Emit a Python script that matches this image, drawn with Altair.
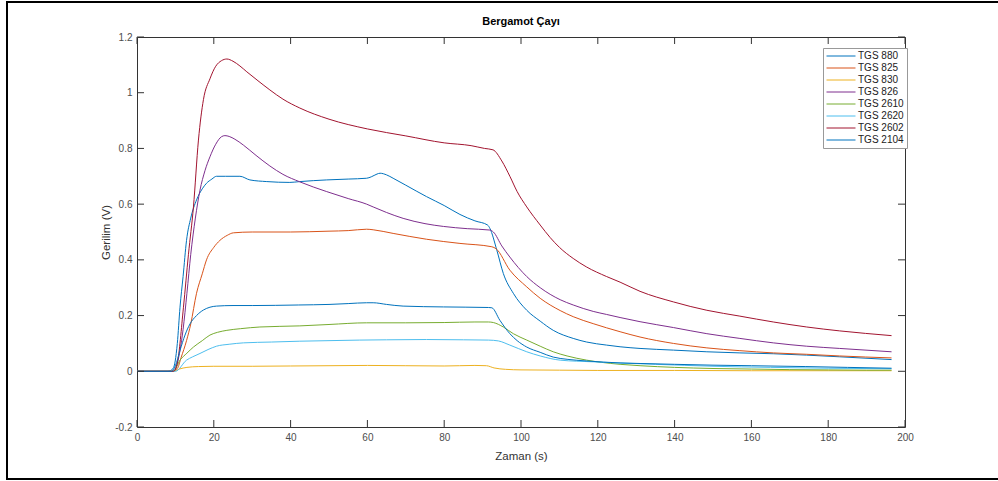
import altair as alt
import pandas as pd

FONT = "Liberation Sans"

series = ["TGS 880", "TGS 825", "TGS 830", "TGS 826", "TGS 2610", "TGS 2620", "TGS 2602", "TGS 2104"]
colors = ["#0072BD", "#D95319", "#EDB120", "#7E2F8E", "#77AC30", "#4DBEEE", "#A2142F", "#0072BD"]

x_ticks = [0, 20, 40, 60, 80, 100, 120, 140, 160, 180, 200]
y_ticks = [-0.2, 0, 0.2, 0.4, 0.6, 0.8, 1, 1.2]
title_text = ["Bergamot Çayı"]

tgs880_x = [0, 8, 9.4, 10.5, 11.2, 12, 12.9, 14, 15.5, 17, 18.1, 19.5, 20.7, 23, 26.8, 29.4, 33.8, 39.8, 42.4,
            49.4, 55, 59.8, 61, 62.5, 63.3, 65, 66.7, 70, 75.4, 80, 84.1, 88, 91.3, 91.9, 93.7, 95.4, 98, 101.5,
            105, 108.4, 113.6, 117.1, 122.3, 125.8, 131, 139.7, 148.4, 157, 165.7, 174.4, 183, 196.5]
tgs880_y = [0, 0, 0.01, 0.1, 0.23, 0.34, 0.47, 0.55, 0.615, 0.655, 0.675, 0.69, 0.70, 0.70, 0.70, 0.687, 0.681,
            0.678, 0.681, 0.687, 0.69, 0.693, 0.698, 0.708, 0.711, 0.705, 0.693, 0.668, 0.627, 0.595, 0.563, 0.54,
            0.525, 0.513, 0.435, 0.351, 0.28, 0.219, 0.18, 0.147, 0.118, 0.105, 0.094, 0.088, 0.082, 0.076,
            0.07, 0.066, 0.063, 0.058, 0.052, 0.042]

tgs825_x = [0, 9, 10.5, 11.5, 12.9, 14, 15.5, 17, 18.1, 20, 21.6, 23.5, 25.1, 30, 40, 50, 55, 59.8, 61.5, 66.7,
            75.4, 84.1, 92.4, 93.5, 97.1, 101.5, 105, 110.2, 113.6, 118.8, 122.3, 125.8, 131, 139.7, 148.4, 157,
            165.7, 174.4, 183, 196.5]
tgs825_y = [0, 0, 0.01, 0.05, 0.11, 0.17, 0.28, 0.35, 0.40, 0.445, 0.47, 0.488, 0.497, 0.50, 0.50, 0.503,
            0.505, 0.51, 0.508, 0.495, 0.474, 0.459, 0.447, 0.44, 0.363, 0.303, 0.262, 0.218, 0.196, 0.171, 0.156,
            0.142, 0.123, 0.1, 0.084, 0.074, 0.066, 0.061, 0.055, 0.048]

tgs830_x = [0, 9.5, 11, 13, 16, 20, 30, 40, 50, 60, 70, 80, 88, 91, 93, 96, 100, 110, 120, 140, 160, 180, 196.5]
tgs830_y = [0, 0, 0.008, 0.014, 0.017, 0.018, 0.018, 0.019, 0.02, 0.021, 0.02, 0.019, 0.021, 0.02, 0.012,
            0.007, 0.005, 0.004, 0.003, 0.003, 0.002, 0.002, 0.002]

tgs826_x = [0, 9.5, 10.5, 12, 13, 14, 15.2, 16.4, 17.7, 19, 20.5, 22, 22.9, 24, 25.5, 27.7, 31, 34.6, 38, 42.4,
            49.4, 55, 59.8, 61.5, 65, 69.3, 75, 79.8, 86, 91.9, 92.8, 95, 97.1, 101.5, 105, 110.2, 113.6, 118.8,
            122.3, 125.8, 131, 139.7, 148.4, 157, 165.7, 174.4, 183, 196.5]
tgs826_y = [0, 0, 0.03, 0.15, 0.28, 0.42, 0.55, 0.65, 0.72, 0.77, 0.815, 0.842, 0.846, 0.843, 0.833, 0.812,
            0.775, 0.737, 0.707, 0.68, 0.645, 0.62, 0.60, 0.59, 0.57, 0.549, 0.53, 0.52, 0.512, 0.507, 0.5, 0.45,
            0.41, 0.34, 0.30, 0.257, 0.238, 0.215, 0.204, 0.193, 0.178, 0.157, 0.135, 0.118, 0.102, 0.09, 0.082,
            0.07]

tgs2610_x = [0, 9.5, 11.2, 13, 14.7, 17, 19, 21, 23.4, 27, 32, 42.4, 50, 59.8, 70, 80, 88, 91.5, 92.8, 95.4,
             98, 101.5, 105, 108.4, 112, 117.1, 121, 125.8, 131, 140, 150, 160, 170, 180, 190, 196.5]
tgs2610_y = [0, 0, 0.04, 0.065, 0.087, 0.11, 0.13, 0.14, 0.147, 0.153, 0.159, 0.163, 0.168, 0.174, 0.174,
             0.175, 0.177, 0.177, 0.175, 0.159, 0.135, 0.112, 0.09, 0.07, 0.055, 0.04, 0.032, 0.025, 0.02, 0.014,
             0.01, 0.008, 0.006, 0.005, 0.004, 0.004]

tgs2620_x = [0, 10, 12.9, 14.5, 16.4, 18.5, 20.7, 24, 27.7, 35, 42.4, 50, 58, 65, 75.4, 85, 91.5, 94.1, 97.1,
             101.5, 105, 110.2, 118.8, 125, 135, 150, 165, 180, 196.5]
tgs2620_y = [0, 0, 0.04, 0.052, 0.064, 0.078, 0.09, 0.097, 0.102, 0.105, 0.108, 0.11, 0.112, 0.113, 0.114,
             0.113, 0.112, 0.109, 0.094, 0.07, 0.055, 0.04, 0.034, 0.03, 0.025, 0.018, 0.014, 0.011, 0.009]

tgs2602_x = [0, 9.5, 10.5, 12.1, 13.4, 14.7, 16, 17.3, 19, 20.5, 22, 23.4, 25, 26.8, 28.6, 31.5, 34.6, 38, 42.4,
             50, 60, 70, 80, 87, 90.5, 92.7, 95, 97.1, 99, 101.5, 105, 107.6, 110, 113.6, 117, 122.3, 125.8, 131,
             139.7, 148.4, 157, 165.7, 174.4, 183, 196.5]
tgs2602_y = [0, 0, 0.03, 0.23, 0.42, 0.59, 0.83, 0.975, 1.05, 1.095, 1.115, 1.121, 1.113, 1.096, 1.075, 1.043,
             1.01, 0.977, 0.945, 0.905, 0.87, 0.845, 0.82, 0.81, 0.80, 0.795, 0.755, 0.70, 0.645, 0.59, 0.525,
             0.48, 0.445, 0.405, 0.375, 0.34, 0.32, 0.287, 0.249, 0.219, 0.198, 0.177, 0.159, 0.145, 0.128]

tgs2104_x = [0, 9, 10, 11.2, 12.5, 13.8, 15.5, 17.3, 19, 20.7, 25, 30, 42, 50, 55, 59.8, 61.5, 65, 69.3, 79.8,
             91.5, 92.4, 94.5, 97.1, 99, 101.5, 105, 108.4, 112, 117.1, 125.8, 131, 140, 150, 160, 174, 185, 196.5]
tgs2104_y = [0, 0, 0.02, 0.075, 0.13, 0.17, 0.2, 0.22, 0.23, 0.234, 0.236, 0.236, 0.238, 0.24, 0.243, 0.246,
             0.246, 0.24, 0.234, 0.231, 0.229, 0.228, 0.183, 0.135, 0.11, 0.087, 0.068, 0.051, 0.043, 0.037,
             0.03, 0.028, 0.025, 0.022, 0.02, 0.017, 0.014, 0.011]

xs_all = [tgs880_x, tgs825_x, tgs830_x, tgs826_x, tgs2610_x, tgs2620_x, tgs2602_x, tgs2104_x]
ys_all = [tgs880_y, tgs825_y, tgs830_y, tgs826_y, tgs2610_y, tgs2620_y, tgs2602_y, tgs2104_y]

rows = []
for name, xv, yv in zip(series, xs_all, ys_all):
    for a, b in zip(xv, yv):
        rows.append({"series": name, "x": a, "y": b})
df = pd.DataFrame(rows)

W, H = 768, 390
TL = 7
xscale = alt.Scale(domain=[0, 200], nice=False, zero=False)
yscale = alt.Scale(domain=[-0.2, 1.2], nice=False, zero=False)

xaxis = alt.Axis(values=x_ticks, ticks=False, domain=False, grid=False, format="d",
                 labelFont=FONT, labelFontSize=10, labelColor="#4d4d4d", labelPadding=5, labelFlush=False,
                 title="Zaman (s)", titleFont=FONT, titleFontSize=11.5, titleFontWeight="normal",
                 titleColor="#333333", titlePadding=8)
yaxis = alt.Axis(values=y_ticks, ticks=False, domain=False, grid=False,
                 labelExpr="replace(format(datum.value, '~g'), '\u2212', '-')",
                 labelFont=FONT, labelFontSize=10, labelColor="#4d4d4d", labelPadding=5, labelFlush=False,
                 title="Gerilim (V)", titleFont=FONT, titleFontSize=11.5, titleFontWeight="normal",
                 titleColor="#333333", titlePadding=3)

lines = alt.Chart(df).mark_line(strokeWidth=1, interpolate="monotone").encode(
    x=alt.X("x:Q", scale=xscale, axis=xaxis),
    y=alt.Y("y:Q", scale=yscale, axis=yaxis),
    color=alt.Color("series:N", scale=alt.Scale(domain=series, range=colors),
                    legend=alt.Legend(title=None, orient="none", legendX=686, legendY=11,
                                      symbolType="stroke", symbolSize=841, symbolStrokeWidth=1,
                                      clipHeight=10, rowPadding=2, padding=3,
                                      labelFont=FONT, labelFontSize=10, labelColor="#222222",
                                      labelOffset=2, strokeColor="#999999", fillColor="white")),
    order=alt.Order("x:Q"),
)

xt = pd.DataFrame({"x": x_ticks})
yt = pd.DataFrame({"y": y_ticks})
tick_style = dict(color="#333333", strokeWidth=1)
bottom_ticks = alt.Chart(xt).mark_rule(**tick_style).encode(
    x=alt.X("x:Q", scale=xscale), y=alt.value(H), y2=alt.value(H - TL))
top_ticks = alt.Chart(xt).mark_rule(**tick_style).encode(
    x=alt.X("x:Q", scale=xscale), y=alt.value(0), y2=alt.value(TL))
left_ticks = alt.Chart(yt).mark_rule(**tick_style).encode(
    y=alt.Y("y:Q", scale=yscale), x=alt.value(0), x2=alt.value(TL))
right_ticks = alt.Chart(yt).mark_rule(**tick_style).encode(
    y=alt.Y("y:Q", scale=yscale), x=alt.value(W), x2=alt.value(W - TL))

title_mark = alt.Chart(pd.DataFrame({"t": title_text})).mark_text(
    font=FONT, fontSize=11, fontWeight="bold", color="black", align="center", baseline="alphabetic"
).encode(text="t:N", x=alt.value(W / 2), y=alt.value(-12))

border = alt.Chart(pd.DataFrame({"a": [0]})).mark_rect(filled=False, stroke="black", strokeWidth=2).encode(
    x=alt.value(7 - 137), x2=alt.value(1010 - 137), y=alt.value(2 - 37), y2=alt.value(479 - 37))

chart = alt.layer(lines, bottom_ticks, top_ticks, left_ticks, right_ticks, title_mark, border).properties(
    width=W, height=H,
    padding={"left": 137, "top": 37, "right": 93, "bottom": 54},
    autosize=alt.AutoSizeParams(type="none"),
    background="white",
).configure_view(stroke="#333333", strokeWidth=1)

chart.save("out.html", embed_options={"renderer": "svg", "actions": False})
